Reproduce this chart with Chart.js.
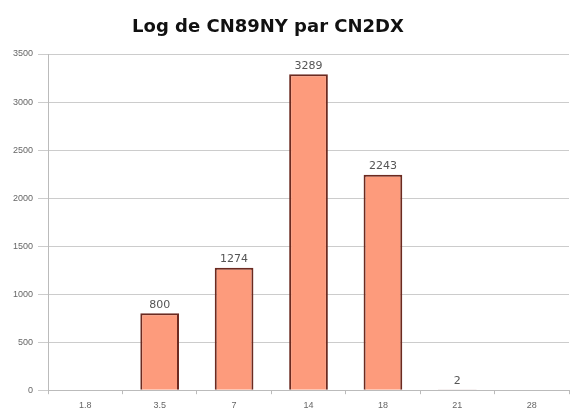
<!DOCTYPE html>
<html lang="fr">
<head>
    <meta charset="UTF-8">
    <title>Log de CN89NY par CN2DX</title>
    <style>
        html, body { margin: 0; padding: 0; background: #fff; }
    </style>
</head>
<body>
    <canvas id="c" width="577" height="413"></canvas>
<script src="https://cdn.jsdelivr.net/npm/chart.js@4/dist/chart.umd.min.js"></script>
<script>
    const bands = ['1.8', '3.5', '7', '14', '18', '21', '28'];
    const qsos = [0, 800, 1274, 3289, 2243, 2, 0];
    const yStep = 500;
    const yMax = 3500;
    const titre = 'Log de CN89NY par CN2DX';

    // titre (un peu décalé à gauche comme l'original) + étiquettes au-dessus des barres
    const decor = {
        id: 'decor',
        afterDatasetsDraw(chart) {
            const ctx = chart.ctx;
            const meta = chart.getDatasetMeta(0);
            ctx.save();
            ctx.fillStyle = '#111';
            ctx.font = 'bold 18px "DejaVu Sans", sans-serif';
            ctx.textAlign = 'center';
            ctx.textBaseline = 'middle';
            ctx.fillText(titre, 268, 27);

            ctx.fillStyle = '#555';
            ctx.font = '11px "DejaVu Sans", sans-serif';
            ctx.textBaseline = 'bottom';
            meta.data.forEach((bar, i) => {
                if (qsos[i] > 0) ctx.fillText(String(qsos[i]), bar.x, bar.y - 3);
            });
            ctx.restore();
        }
    };

    new Chart(document.getElementById('c'), {
        type: 'bar',
        data: {
            labels: bands,
            datasets: [{
                data: qsos,
                backgroundColor: '#fd9b7c',
                borderColor: '#6b2a20',
                borderWidth: 2,
                barPercentage: 0.52,
                categoryPercentage: 1.0
            }]
        },
        options: {
            responsive: false,
            animation: false,
            layout: { padding: { left: 8, right: 8, top: 54, bottom: -4 } },
            plugins: {
                legend: { display: false },
                tooltip: { enabled: false },
                title: { display: false }
            },
            scales: {
                x: {
                    grid: { display: true, drawOnChartArea: false, tickLength: 4, color: '#bbb' },
                    border: { color: '#bbb' },
                    ticks: { color: '#666', font: { size: 9 }, padding: 6, maxRotation: 0 }
                },
                y: {
                    min: 0,
                    max: yMax,
                    grid: { color: '#cccccc', tickLength: 10 },
                    border: { color: '#bbb' },
                    ticks: {
                        stepSize: yStep,
                        autoSkip: false,
                        color: '#666',
                        font: { size: 9 },
                        padding: 5,
                        callback: (v) => String(v)
                    }
                }
            }
        },
        plugins: [decor]
    });
</script>
</body>
</html>
